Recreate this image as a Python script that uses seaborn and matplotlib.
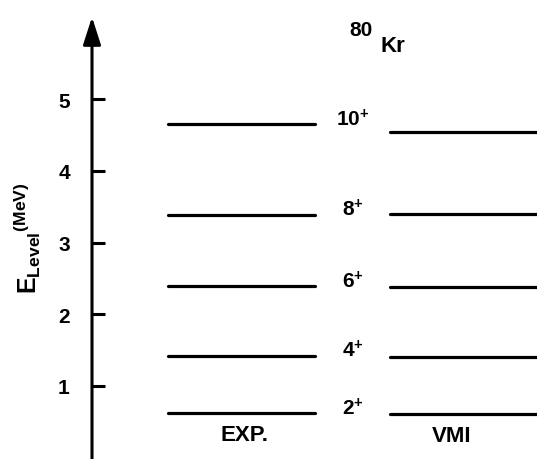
import matplotlib
matplotlib.use("Agg")
import matplotlib.pyplot as plt
import seaborn as sns
import pandas as pd

# Level energies (MeV) of the ground-state band of 80Kr
spins = ["2", "4", "6", "8", "10"]
exp_levels = [0.62, 1.42, 2.39, 3.39, 4.65]
vmi_levels = [0.61, 1.40, 2.38, 3.40, 4.54]
models = ["EXP.", "VMI"]
y_ticks = [1, 2, 3, 4, 5]

sns.set_theme(style="white")
plt.rcParams["font.family"] = ["Liberation Sans", "DejaVu Sans"]
plt.rcParams["font.weight"] = "bold"
plt.rcParams["text.color"] = "black"
plt.rcParams["ytick.color"] = "black"
plt.rcParams["ytick.labelcolor"] = "black"
plt.rcParams["mathtext.fontset"] = "custom"
plt.rcParams["mathtext.rm"] = "Liberation Sans:bold"
plt.rcParams["mathtext.bf"] = "Liberation Sans:bold"
plt.rcParams["mathtext.default"] = "bf"

W, H = 537, 460
fig = plt.figure(figsize=(W / 100, H / 100), dpi=100)
ax = fig.add_axes([0, 0, 1, 1])

# pixel-like horizontal frame, energy on the vertical axis
px_per_mev = 71.7
zero_px = 458.7
ax.set_xlim(0, W)
ax.set_ylim((zero_px - H) / px_per_mev, zero_px / px_per_mev)

axis_x = 92
col_span = {"EXP.": (168, 315), "VMI": (390, 537)}

rows = []
for model, levels in zip(models, [exp_levels, vmi_levels]):
    x0, x1 = col_span[model]
    for s, e in zip(spins, levels):
        seg = f"{model}-{s}"
        rows.append({"x": x0, "E": e, "seg": seg})
        rows.append({"x": x1, "E": e, "seg": seg})
df = pd.DataFrame(rows)

sns.lineplot(data=df, x="x", y="E", units="seg", estimator=None,
             sort=False, color="black", lw=2.3, ax=ax, legend=False)

# spin labels between the two columns
for s, e in zip(spins, exp_levels):
    ax.text(353, e + 0.08, s + r"$^{\mathbf{+}}$", ha="center", va="center",
            fontsize=15, fontweight="bold", color="black")

# column titles
ax.text(244, (zero_px - 436) / px_per_mev, "EXP.", ha="center", va="center",
        fontsize=16, fontweight="bold")
ax.text(452, (zero_px - 437) / px_per_mev, "VMI", ha="center", va="center",
        fontsize=16, fontweight="bold")

# nucleus label
ax.text(361, (zero_px - 31) / px_per_mev, "80", ha="center", va="center",
        fontsize=15, fontweight="bold")
ax.text(393, (zero_px - 47) / px_per_mev, "Kr", ha="center", va="center",
        fontsize=16, fontweight="bold")

# energy axis with arrow head
top_val = (zero_px - 18) / px_per_mev
ax.annotate("", xy=(axis_x, top_val), xytext=(axis_x, (zero_px - H) / px_per_mev),
            arrowprops=dict(arrowstyle="-|>,head_length=1.4,head_width=0.45",
                            color="black", lw=2.2, shrinkA=0, shrinkB=0))

for side in ["top", "right", "bottom"]:
    ax.spines[side].set_visible(False)
ax.spines["left"].set_position(("data", axis_x))
ax.spines["left"].set_visible(False)
ax.set_xticks([])
ax.set_yticks(y_ticks)
ax.set_yticklabels([str(t) for t in y_ticks])
ax.tick_params(axis="y", direction="in", length=9, width=2.2, color="black",
               pad=16, labelsize=15, left=True, labelcolor="black")
for lbl in ax.get_yticklabels():
    lbl.set_fontweight("bold")
ax.set_xlabel("")
ax.set_ylabel("")

fig.text(27 / W, 1 - 238 / H,
         r"$\mathbf{E}_{\mathbf{Level}}$$^{\mathbf{(MeV)}}$",
         rotation=90, ha="center", va="center", fontsize=18)

fig.savefig("out.png", dpi=100, facecolor="white")
